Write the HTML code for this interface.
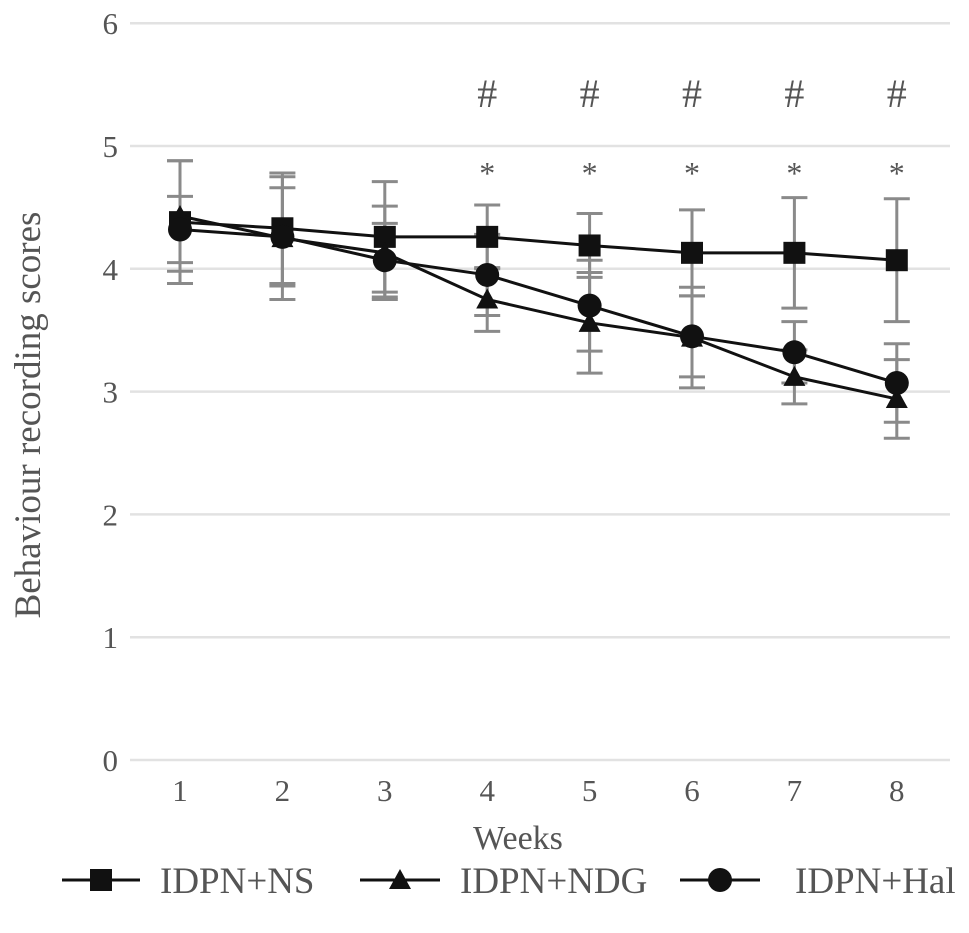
<!DOCTYPE html>
<html><head><meta charset="utf-8"><style>
html,body{margin:0;padding:0;background:#fff;}
svg text{font-family:"Liberation Serif",serif;fill:#555;}
</style></head><body>
<svg id="chart" width="969" height="928" viewBox="0 0 969 928" xmlns="http://www.w3.org/2000/svg">
<g id="grid"></g><g id="errs"></g><g id="lines"></g><g id="labels"></g>
</svg>
<script>
const weeks=[1,2,3,4,5,6,7,8];
const yTicks=[0,1,2,3,4,5,6];
const seriesNames=["IDPN+NS","IDPN+NDG","IDPN+Hal"];
const nsVals=[4.38,4.33,4.26,4.26,4.19,4.13,4.13,4.07];
const ndgVals=[4.43,4.25,4.13,3.75,3.56,3.44,3.12,2.94];
const halVals=[4.32,4.26,4.07,3.95,3.70,3.45,3.32,3.07];
const nsErr=[0.5,0.45,0.45,0.26,0.26,0.35,0.45,0.5];
const ndgErr=[0.45,0.5,0.38,0.26,0.41,0.41,0.22,0.32];
const halErr=[0.27,0.4,0.3,0.33,0.37,0.33,0.25,0.32];
const sigWeeks=[4,5,6,7,8];
const NS="http://www.w3.org/2000/svg";
const X=w=>180+(w-1)*102.4;
const Y=v=>760-v*122.8;
function mk(tag,attrs,parent,txt){const e=document.createElementNS(NS,tag);for(const k in attrs)e.setAttribute(k,attrs[k]);if(txt!==undefined)e.textContent=txt;document.getElementById(parent).appendChild(e);return e;}
yTicks.forEach(t=>{
 const l=mk('line',{x1:130,x2:950,y1:Y(t),y2:Y(t),stroke:'#e2e2e2','stroke-width':2.5},'grid');
 
 
 const tx=mk('text',{x:118,y:Y(t)+11,'text-anchor':'end','font-size':31},'labels',String(t));
 
 
});
weeks.forEach(w=>{
 const tx=mk('text',{x:X(w),y:801,'text-anchor':'middle','font-size':31},'labels',String(w));
 
 
});
sigWeeks.forEach(w=>{
 const h=mk('text',{x:X(w),y:107,'text-anchor':'middle','font-size':40},'labels','#');
 
 
 const s=mk('text',{x:X(w),y:184,'text-anchor':'middle','font-size':32},'labels','*');
 
 
});
const all=[[nsVals,nsErr,'square'],[ndgVals,ndgErr,'triangle'],[halVals,halErr,'circle']];
all.forEach(([vals,errs,shape],si)=>{
 vals.forEach((v,i)=>{
  const x=X(weeks[i]);
  const g=mk('g',{stroke:'#8a8a8a','stroke-width':3},'errs');
  
  
  const e=document.createElementNS(NS,'path');
  const a=Y(v+errs[i]),b=Y(v-errs[i]);
  e.setAttribute('d',`M${x},${a}V${b}M${x-13},${a}H${x+13}M${x-13},${b}H${x+13}`);
  e.setAttribute('fill','none');g.appendChild(e);
 });
});
all.forEach(([vals,errs,shape],si)=>{
 const p=mk('polyline',{points:vals.map((v,i)=>X(weeks[i])+','+Y(v)).join(' '),fill:'none',stroke:'#111','stroke-width':3},'lines');
 
 
 vals.forEach((v,i)=>{
  const m=marker(shape,X(weeks[i]),Y(v),'lines');
  
  
 });
});
function marker(shape,x,y,parent){
 if(shape==='square')return mk('rect',{x:x-11,y:y-11,width:22,height:22,fill:'#111'},parent);
 if(shape==='triangle')return mk('polygon',{points:`${x},${y-11} ${x+11},${y+9} ${x-11},${y+9}`,fill:'#111'},parent);
 return mk('circle',{cx:x,cy:y,r:12,fill:'#111'},parent);
}
const legX=[[62,140,160],[360,440,460],[680,760,795]];
const shapes=['square','triangle','circle'];
seriesNames.forEach((n,i)=>{
 const [a,b,t]=legX[i];
 const l=mk('line',{x1:a,x2:b,y1:880,y2:880,stroke:'#111','stroke-width':3},'labels');
 
 
 const m=marker(shapes[i],(a+b)/2,880,'labels');
 
 
 const tx=mk('text',{x:t,y:893,'font-size':37},'labels',n);
 
 
});
const xt=mk('text',{x:518,y:849,'text-anchor':'middle','font-size':34},'labels','Weeks');


const yt=mk('text',{x:0,y:0,'text-anchor':'middle','font-size':37,transform:'translate(40,415) rotate(-90)'},'labels','Behaviour recording scores');


</script>
</body></html>
